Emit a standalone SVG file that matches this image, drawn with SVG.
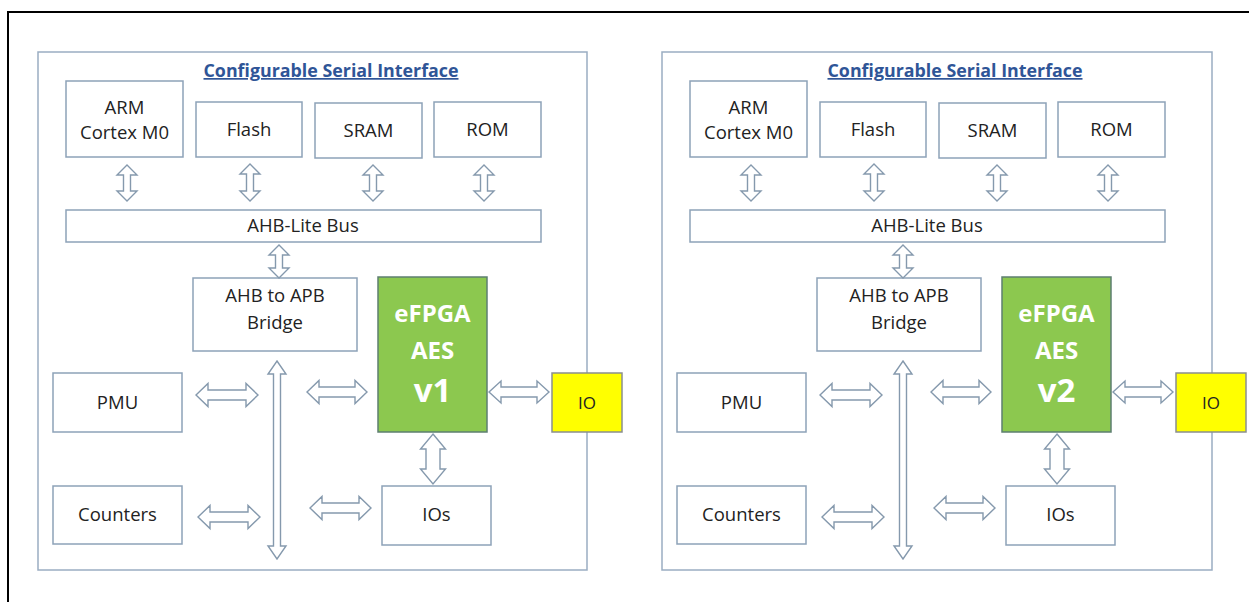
<svg xmlns="http://www.w3.org/2000/svg" width="1249" height="602" viewBox="0 0 1249 602">
<style>
.frame{fill:none;stroke:#000;stroke-width:2}
.panel{fill:#fff;stroke:#9aadc2;stroke-width:1.5}
.box{fill:#fff;stroke:#8da2b8;stroke-width:1.5}
.fpga{fill:#8cc84f;stroke:#5d7f70;stroke-width:1.5}
.io{fill:#ffff00;stroke:#8a8f8f;stroke-width:1.5}
.arr{fill:#fff;stroke:#8599ad;stroke-width:1.4;stroke-linejoin:miter}
.t{font-family:'Open Sans','Liberation Sans',sans-serif;font-size:18.5px;fill:#222;text-anchor:middle}
.ttl{font-family:'Open Sans','Liberation Sans',sans-serif;font-size:17px;font-weight:bold;fill:#2f5597;text-anchor:middle;text-decoration:underline}
.ft{font-family:'Open Sans','Liberation Sans',sans-serif;font-weight:bold;fill:#fff;text-anchor:middle}
.iot{font-family:'Open Sans','Liberation Sans',sans-serif;font-size:17px;fill:#222;text-anchor:middle}
</style>
<rect width="1249" height="602" fill="#fff"/>
<path class="frame" d="M8,602 L8,12 L1249,12"/>

<g id="panel-v1">
  <rect class="panel" x="38" y="52" width="549" height="518"/>
  <text class="ttl" x="331" y="77" textLength="255" lengthAdjust="spacingAndGlyphs">Configurable Serial Interface</text>
  <g id="arm-1"><rect class="box" x="66" y="81" width="117" height="76"/><text class="t" x="124.5" y="114">ARM</text><text class="t" x="124.5" y="139">Cortex M0</text></g>
  <g id="flash-1"><rect class="box" x="196" y="102" width="106" height="55"/><text class="t" x="249" y="136">Flash</text></g>
  <g id="sram-1"><rect class="box" x="315" y="103" width="107" height="55"/><text class="t" x="368.5" y="137">SRAM</text></g>
  <g id="rom-1"><rect class="box" x="434" y="102" width="107" height="55"/><text class="t" x="487.5" y="136">ROM</text></g>
  <g id="bus-1"><rect class="box" x="66" y="210" width="475" height="32"/><text class="t" x="303" y="232">AHB-Lite Bus</text></g>
  <g id="bridge-1"><rect class="box" x="193" y="278" width="164" height="73"/><text class="t" x="275" y="302">AHB to APB</text><text class="t" x="275" y="329">Bridge</text></g>
  <g id="pmu-1"><rect class="box" x="53" y="373" width="129" height="59"/><text class="t" x="117.5" y="409">PMU</text></g>
  <g id="counters-1"><rect class="box" x="53" y="486" width="129" height="58"/><text class="t" x="117.5" y="521">Counters</text></g>
  <g id="efpga-1"><rect class="fpga" x="378" y="277" width="109" height="155"/><text class="ft" x="432.5" y="322" font-size="24">eFPGA</text><text class="ft" x="432.5" y="359" font-size="24">AES</text><text class="ft" x="432.5" y="402" font-size="33">v1</text></g>
  <g id="io-1"><rect class="io" x="552" y="373" width="70" height="59"/><text class="iot" x="587" y="409">IO</text></g>
  <g id="ios-1"><rect class="box" x="382" y="486" width="109" height="59"/><text class="t" x="436.5" y="521">IOs</text></g>
  <g id="connectors-1">
    <path class="arr" d="M127,165 L137,175 L130.5,175 L130.5,191 L137,191 L127,201 L117,191 L123.5,191 L123.5,175 L117,175 Z"/>
    <path class="arr" d="M250,164 L260,174 L253.5,174 L253.5,191 L260,191 L250,201 L240,191 L246.5,191 L246.5,174 L240,174 Z"/>
    <path class="arr" d="M373,165 L383,175 L376.5,175 L376.5,191 L383,191 L373,201 L363,191 L369.5,191 L369.5,175 L363,175 Z"/>
    <path class="arr" d="M484,165 L494,175 L487.5,175 L487.5,191 L494,191 L484,201 L474,191 L480.5,191 L480.5,175 L474,175 Z"/>
    <path class="arr" d="M279,245 L289,255 L282.5,255 L282.5,268 L289,268 L279,278 L269,268 L275.5,268 L275.5,255 L269,255 Z"/>
    <path class="arr" d="M277,361 L286,374 L280.5,374 L280.5,546 L286,546 L277,559 L268,546 L273.5,546 L273.5,374 L268,374 Z"/>
    <path class="arr" d="M433,434 L445.5,449 L440,449 L440,469 L445.5,469 L433,484 L420.5,469 L426,469 L426,449 L420.5,449 Z"/>
    <path class="arr" d="M196,395 L208,383.5 L208,390 L246,390 L246,383.5 L258,395 L246,406.5 L246,400 L208,400 L208,406.5 Z"/>
    <path class="arr" d="M198,517 L210,505.5 L210,512 L248,512 L248,505.5 L260,517 L248,528.5 L248,522 L210,522 L210,528.5 Z"/>
    <path class="arr" d="M307,392 L319,380.5 L319,387 L355,387 L355,380.5 L367,392 L355,403.5 L355,397 L319,397 L319,403.5 Z"/>
    <path class="arr" d="M310,508 L322,496.5 L322,503 L359,503 L359,496.5 L371,508 L359,519.5 L359,513 L322,513 L322,519.5 Z"/>
    <path class="arr" d="M489,392 L501,381 L501,387 L537,387 L537,381 L549,392 L537,403 L537,397 L501,397 L501,403 Z"/>
  </g>
</g>

<g id="panel-v2" transform="translate(624,0)">
  <rect class="panel" x="38" y="52" width="550" height="518"/>
  <text class="ttl" x="331" y="77" textLength="255" lengthAdjust="spacingAndGlyphs">Configurable Serial Interface</text>
  <g id="arm-2"><rect class="box" x="66" y="81" width="117" height="76"/><text class="t" x="124.5" y="114">ARM</text><text class="t" x="124.5" y="139">Cortex M0</text></g>
  <g id="flash-2"><rect class="box" x="196" y="102" width="106" height="55"/><text class="t" x="249" y="136">Flash</text></g>
  <g id="sram-2"><rect class="box" x="315" y="103" width="107" height="55"/><text class="t" x="368.5" y="137">SRAM</text></g>
  <g id="rom-2"><rect class="box" x="434" y="102" width="107" height="55"/><text class="t" x="487.5" y="136">ROM</text></g>
  <g id="bus-2"><rect class="box" x="66" y="210" width="475" height="32"/><text class="t" x="303" y="232">AHB-Lite Bus</text></g>
  <g id="bridge-2"><rect class="box" x="193" y="278" width="164" height="73"/><text class="t" x="275" y="302">AHB to APB</text><text class="t" x="275" y="329">Bridge</text></g>
  <g id="pmu-2"><rect class="box" x="53" y="373" width="129" height="59"/><text class="t" x="117.5" y="409">PMU</text></g>
  <g id="counters-2"><rect class="box" x="53" y="486" width="129" height="58"/><text class="t" x="117.5" y="521">Counters</text></g>
  <g id="efpga-2"><rect class="fpga" x="378" y="277" width="109" height="155"/><text class="ft" x="432.5" y="322" font-size="24">eFPGA</text><text class="ft" x="432.5" y="359" font-size="24">AES</text><text class="ft" x="432.5" y="402" font-size="33">v2</text></g>
  <g id="io-2"><rect class="io" x="552" y="373" width="70" height="59"/><text class="iot" x="587" y="409">IO</text></g>
  <g id="ios-2"><rect class="box" x="382" y="486" width="109" height="59"/><text class="t" x="436.5" y="521">IOs</text></g>
  <g id="connectors-2">
    <path class="arr" d="M127,165 L137,175 L130.5,175 L130.5,191 L137,191 L127,201 L117,191 L123.5,191 L123.5,175 L117,175 Z"/>
    <path class="arr" d="M250,164 L260,174 L253.5,174 L253.5,191 L260,191 L250,201 L240,191 L246.5,191 L246.5,174 L240,174 Z"/>
    <path class="arr" d="M373,165 L383,175 L376.5,175 L376.5,191 L383,191 L373,201 L363,191 L369.5,191 L369.5,175 L363,175 Z"/>
    <path class="arr" d="M484,165 L494,175 L487.5,175 L487.5,191 L494,191 L484,201 L474,191 L480.5,191 L480.5,175 L474,175 Z"/>
    <path class="arr" d="M279,245 L289,255 L282.5,255 L282.5,268 L289,268 L279,278 L269,268 L275.5,268 L275.5,255 L269,255 Z"/>
    <path class="arr" d="M279,361 L288,374 L282.5,374 L282.5,546 L288,546 L279,559 L270,546 L275.5,546 L275.5,374 L270,374 Z"/>
    <path class="arr" d="M433,434 L445.5,449 L440,449 L440,469 L445.5,469 L433,484 L420.5,469 L426,469 L426,449 L420.5,449 Z"/>
    <path class="arr" d="M196,395 L208,383.5 L208,390 L246,390 L246,383.5 L258,395 L246,406.5 L246,400 L208,400 L208,406.5 Z"/>
    <path class="arr" d="M198,517 L210,505.5 L210,512 L248,512 L248,505.5 L260,517 L248,528.5 L248,522 L210,522 L210,528.5 Z"/>
    <path class="arr" d="M307,392 L319,380.5 L319,387 L355,387 L355,380.5 L367,392 L355,403.5 L355,397 L319,397 L319,403.5 Z"/>
    <path class="arr" d="M310,508 L322,496.5 L322,503 L359,503 L359,496.5 L371,508 L359,519.5 L359,513 L322,513 L322,519.5 Z"/>
    <path class="arr" d="M489,392 L501,381 L501,387 L537,387 L537,381 L549,392 L537,403 L537,397 L501,397 L501,403 Z"/>
  </g>
</g>
</svg>
